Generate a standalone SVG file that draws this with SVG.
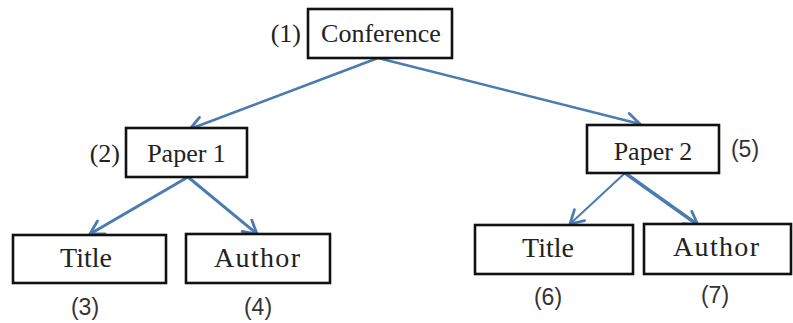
<svg xmlns="http://www.w3.org/2000/svg" width="793" height="323" viewBox="0 0 793 323">
<style>
.box{fill:#fff;stroke:#111;stroke-width:2.6}
.t{font-family:"Liberation Serif",serif;fill:#222;text-anchor:middle}
.big{font-size:26px}
.mid{font-size:28px}
.lab{font-family:"Liberation Sans",sans-serif;font-size:23px;fill:#333;text-anchor:middle}
.labs{font-family:"Liberation Serif",serif;font-size:26px;fill:#222}
.c{fill:none;stroke:#4c7bb0;stroke-linecap:round}
</style>
<defs>
<marker id="ah" viewBox="-16 -9 18 18" refX="0" refY="0" markerWidth="18" markerHeight="18" markerUnits="userSpaceOnUse" orient="auto">
<path d="M-13,-7.5 L0,0 L-13,7.5" fill="none" stroke="#4c7bb0" stroke-width="2.8" stroke-linecap="round" stroke-linejoin="round"/>
</marker>
</defs>
<rect width="793" height="323" fill="#fff"/>
<g id="connectors">
<line class="c" x1="378" y1="58" x2="190" y2="129" stroke-width="2.6" marker-end="url(#ah)"/>
<line class="c" x1="378" y1="58" x2="640" y2="124" stroke-width="2.6" marker-end="url(#ah)"/>
<line class="c" x1="188" y1="177" x2="90" y2="234" stroke-width="3" marker-end="url(#ah)"/>
<line class="c" x1="188" y1="177" x2="257" y2="234" stroke-width="3" marker-end="url(#ah)"/>
<line class="c" x1="625" y1="173" x2="570" y2="224" stroke-width="2" marker-end="url(#ah)"/>
<line class="c" x1="625" y1="173" x2="698" y2="225" stroke-width="3.4" marker-end="url(#ah)"/>
</g>
<g id="conference">
<rect class="box" x="308" y="9" width="144" height="49" stroke-width="3"/>
<text class="t big" x="381" y="42">Conference</text>
<text class="labs" x="301" y="42" text-anchor="end">(1)</text>
</g>
<g id="paper1">
<rect class="box" x="126" y="128" width="121" height="49"/>
<text class="t big" x="186.5" y="162">Paper 1</text>
<text class="labs" x="120" y="162" text-anchor="end">(2)</text>
</g>
<g id="paper2">
<rect class="box" x="587" y="125" width="132" height="48"/>
<text class="t big" x="653" y="160">Paper 2</text>
<text class="lab" x="745" y="157">(5)</text>
</g>
<g id="title1">
<rect class="box" x="13" y="235" width="153" height="48"/>
<text class="t mid" x="86" y="267">Title</text>
<text class="lab" x="85" y="315">(3)</text>
</g>
<g id="author1">
<rect class="box" x="186" y="234" width="144" height="49"/>
<text class="t mid" x="257" y="267" textLength="86" lengthAdjust="spacing">Author</text>
<text class="lab" x="258" y="315">(4)</text>
</g>
<g id="title2">
<rect class="box" x="475" y="225" width="158" height="49"/>
<text class="t mid" x="548" y="257">Title</text>
<text class="lab" x="548" y="305">(6)</text>
</g>
<g id="author2">
<rect class="box" x="644" y="224" width="147" height="50"/>
<text class="t mid" x="716" y="256" textLength="86" lengthAdjust="spacing">Author</text>
<text class="lab" x="715" y="303">(7)</text>
</g>
</svg>
